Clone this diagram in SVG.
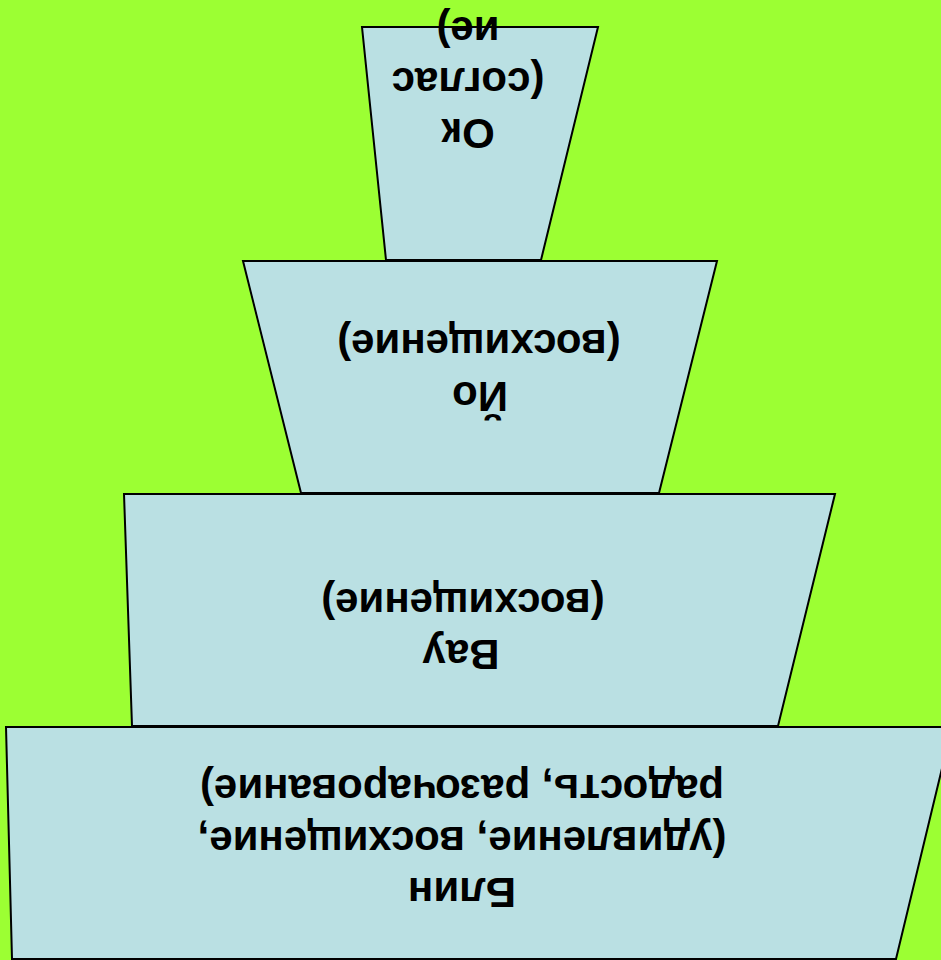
<svg xmlns="http://www.w3.org/2000/svg" width="941" height="960" viewBox="0 0 941 960">
<style>
.tier{fill:#BAE0E3;stroke:#000;stroke-width:2;stroke-linejoin:miter}
.t{font-family:"Liberation Sans",Arial,sans-serif;font-weight:bold;font-size:42px;fill:#000;text-anchor:middle}
</style>
<rect x="0" y="0" width="941" height="960" fill="#9CFF33"/>
<g id="tier-blin">
<polygon class="tier" points="6,727 952,727 896,959 12,959"/>
<text class="t" x="462" y="775" transform="rotate(180 462 775)">радость, разочарование)</text>
<text class="t" x="462" y="827" transform="rotate(180 462 827)">(удивление, восхищение,</text>
<text class="t" x="462" y="878" transform="rotate(180 462 878)">Блин</text>
</g>
<g id="tier-vau">
<polygon class="tier" points="124,494 835,494 778,726 132,726"/>
<text class="t" x="463" y="589" transform="rotate(180 463 589)">(восхищение)</text>
<text class="t" x="461" y="640" transform="rotate(180 461 640)">Вау</text>
</g>
<g id="tier-yo">
<polygon class="tier" points="243,261 717,261 659,493 301,493"/>
<text class="t" x="479" y="330" transform="rotate(180 479 330)">(восхищение)</text>
<text class="t" x="480" y="382" transform="rotate(180 480 382)">Йо</text>
</g>
<g id="tier-ok">
<polygon class="tier" points="362,27 598,27 541,260 386,260"/>
<text class="t" x="468" y="17" transform="rotate(180 468 17)">ие)</text>
<text class="t" x="468" y="68" transform="rotate(180 468 68)">(соглас</text>
<text class="t" x="468" y="119" transform="rotate(180 468 119)">Ок</text>
</g>
</svg>
